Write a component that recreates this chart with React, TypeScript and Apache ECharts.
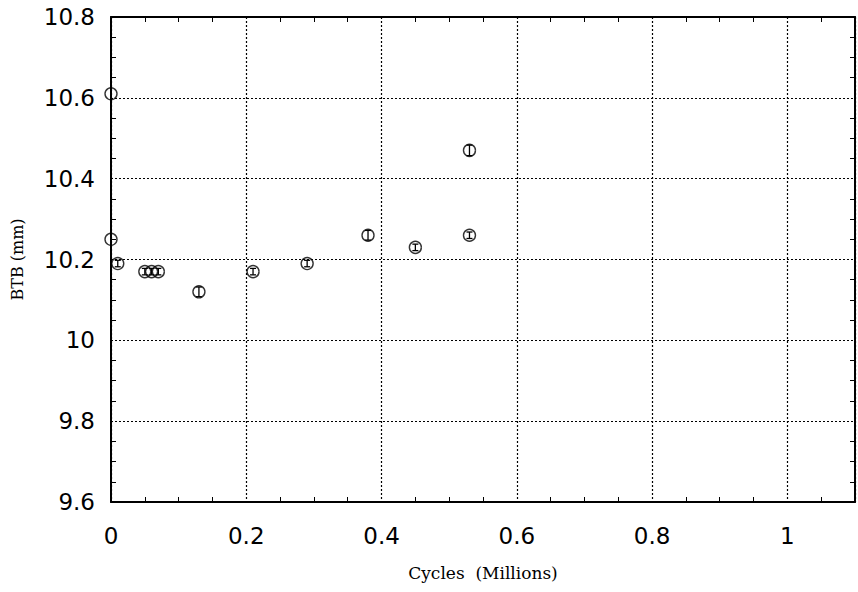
import React, { useEffect, useRef } from "react";
import * as echarts from "echarts";

const cycles = [0, 0, 0.01, 0.05, 0.06, 0.07, 0.13, 0.21, 0.29, 0.38, 0.45, 0.53, 0.53];
const btb = [10.61, 10.25, 10.19, 10.17, 10.17, 10.17, 10.12, 10.17, 10.19, 10.26, 10.23, 10.26, 10.47];
const errs = [0, 0, 0.008, 0.008, 0.008, 0.008, 0.012, 0.008, 0.008, 0.012, 0.008, 0.008, 0.013];

export default function App() {
  const ref = useRef<HTMLDivElement>(null);
  useEffect(() => {
    const chart = echarts.init(ref.current!, null, { renderer: "svg" });
    const common = {
      type: "value" as const,
      axisLine: { show: true, onZero: false, lineStyle: { color: "#000", width: 2 } },
      axisTick: { show: false, inside: true },
      minorTick: { show: true, splitNumber: 4, length: 5, lineStyle: { color: "#000", width: 1 } },
    };
    const tickFont = { color: "#000", fontFamily: "DejaVu Sans", fontSize: 23 };
    const pts = cycles.map((c, i) => [c, btb[i], errs[i]]);
    chart.setOption({
      animation: false,
      backgroundColor: "#fff",
      grid: { left: 111, top: 17, right: 2, bottom: 90 },
      xAxis: [
        {
          ...common,
          min: 0,
          max: 1.1,
          interval: 0.2,
          position: "bottom",
          axisLabel: { ...tickFont, margin: 22, formatter: (v: number) => (v > 1.05 ? "" : String(Math.round(v * 10) / 10)) },
          splitLine: { show: true, lineStyle: { color: "#000", type: [2, 2], width: 1.2 } },
          name: "Cycles  (Millions)",
          nameLocation: "middle",
          nameGap: 62,
          nameTextStyle: { color: "#000", fontFamily: "DejaVu Serif", fontSize: 17 },
        },
        {
          ...common,
          min: 0,
          max: 1.1,
          interval: 0.2,
          position: "top",
          axisLabel: { show: false },
          splitLine: { show: false },
        },
      ],
      yAxis: [
        {
          ...common,
          min: 9.6,
          max: 10.8,
          interval: 0.2,
          position: "left",
          axisLabel: { ...tickFont, margin: 16 },
          splitLine: { show: true, lineStyle: { color: "#000", type: [2, 2], width: 1.2 } },
          name: "BTB (mm)",
          nameLocation: "middle",
          nameGap: 86,
          nameTextStyle: { color: "#000", fontFamily: "DejaVu Serif", fontSize: 16 },
        },
        {
          ...common,
          min: 9.6,
          max: 10.8,
          interval: 0.2,
          position: "right",
          axisLabel: { show: false },
          splitLine: { show: false },
        },
      ],
      series: [
        {
          type: "scatter",
          data: pts.map((p) => [p[0], p[1]]),
          symbol: "circle",
          symbolSize: 12,
          itemStyle: { color: "rgba(255,255,255,0)", borderColor: "#000", borderWidth: 1.4 },
          z: 5,
        },
        {
          type: "custom",
          data: pts,
          z: 6,
          renderItem: (params: any, api: any) => {
            const x = api.value(0);
            const y = api.value(1);
            const e = api.value(2);
            if (!e) return null;
            const top = api.coord([x, y + e]);
            const bot = api.coord([x, y - e]);
            const w = 3;
            const style = { stroke: "#000", lineWidth: 1.3 };
            return {
              type: "group",
              children: [
                { type: "line", shape: { x1: top[0], y1: top[1], x2: bot[0], y2: bot[1] }, style },
                { type: "line", shape: { x1: top[0] - w, y1: top[1], x2: top[0] + w, y2: top[1] }, style },
                { type: "line", shape: { x1: bot[0] - w, y1: bot[1], x2: bot[0] + w, y2: bot[1] }, style },
              ],
            };
          },
        },
      ],
    });
    return () => chart.dispose();
  }, []);
  return <div ref={ref} style={{ width: 858, height: 592, position: "absolute", left: 0, top: 0 }} />;
}
